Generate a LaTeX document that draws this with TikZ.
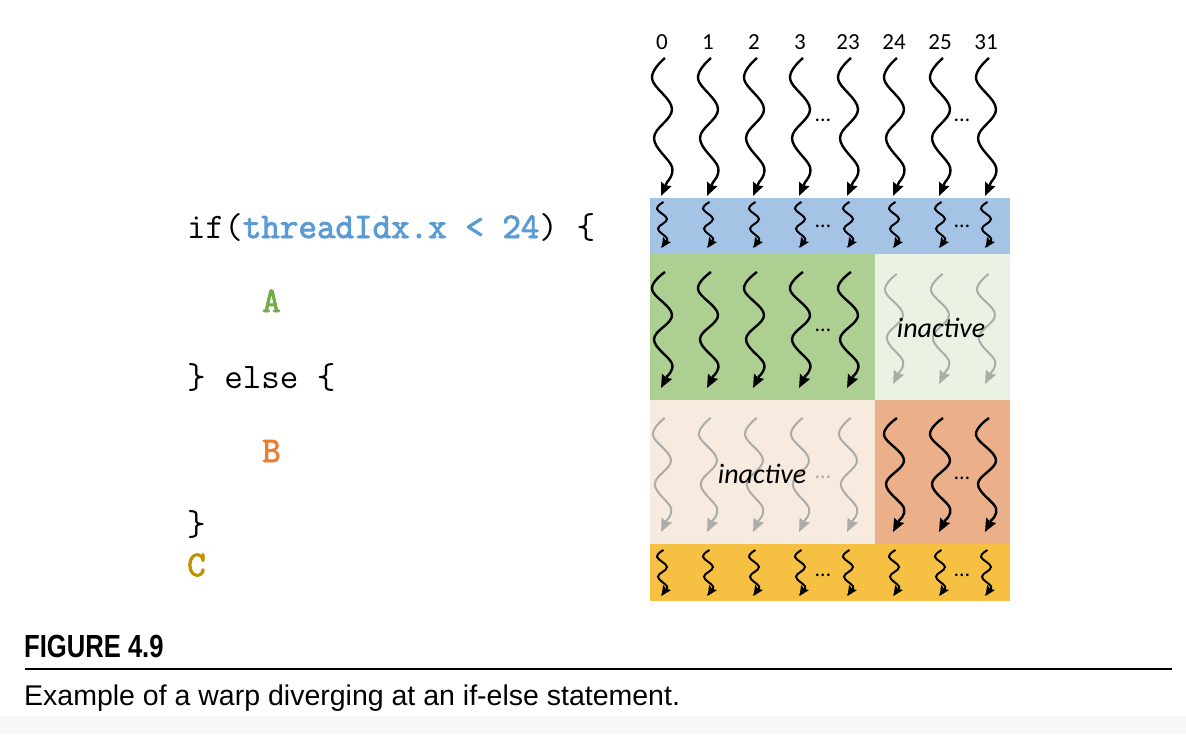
\documentclass[tikz,border=0pt]{standalone}
\usepackage{fontspec}
\setmainfont{Carlito}
\newfontfamily\capfont[FakeStretch=0.8]{Liberation Sans}
\newfontfamily\textcapfont{Liberation Sans}
\newfontfamily\codebold[FakeBold=2.5]{Latin Modern Mono}
\usetikzlibrary{arrows.meta}

\definecolor{codeblue}{RGB}{91,155,213}
\definecolor{codegreen}{RGB}{112,173,71}
\definecolor{codeorange}{RGB}{237,125,49}
\definecolor{codegold}{RGB}{191,144,0}
\definecolor{bandblue}{RGB}{164,195,229}
\definecolor{bandgreen}{RGB}{174,207,146}
\definecolor{bandpalegreen}{RGB}{233,242,227}
\definecolor{bandpeach}{RGB}{247,234,222}
\definecolor{bandorange}{RGB}{235,176,138}
\definecolor{bandyellow}{RGB}{246,193,66}
\definecolor{idlegray}{RGB}{172,172,168}

% one wavy thread: #1 style, #2 x, #3 top, #4 height, #5 swing
\newcommand{\thread}[5]{%
  \draw[#1] plot[smooth,tension=0.65] coordinates {({#2+0.3*#5},{#3})
    ({#2-#5},{#3+0.15*#4}) ({#2+#5},{#3+0.37*#4}) ({#2-0.8*#5},{#3+0.58*#4})
    ({#2+#5},{#3+0.79*#4}) ({#2+0.5*#5},{#3+0.9*#4})} -- ({#2-0.1*#5},{#3+#4});}

\tikzset{
  live/.style={line width=2.4pt,-{Stealth[length=13pt,width=11pt,inset=1.5pt]}},
  livesmall/.style={line width=2pt,-{Stealth[length=10pt,width=9pt,inset=1.5pt]}},
  idle/.style={live,line width=2pt,draw=idlegray},
  tid/.style={font=\fontsize{23}{25}\selectfont,inner sep=0pt},
  gap/.style={font=\fontsize{22}{24}\selectfont,inner sep=0pt},
  idletext/.style={font=\fontsize{28}{30}\selectfont\itshape,inner sep=0pt},
  code/.style={font=\fontsize{36}{38}\selectfont\ttfamily,anchor=base west,inner sep=0pt},
}

\begin{document}
\begin{tikzpicture}[x=1pt,y=-1pt]
  \useasboundingbox (0,0) rectangle (1186,734);
  \fill[white] (0,0) rectangle (1186,734);
  \fill[black!3] (0,716) rectangle (1186,734);

  % coloured bands
  \fill[bandblue] (650,198) rectangle (1010,254);
  \fill[bandgreen] (650,254) rectangle (875,400);
  \fill[bandpalegreen] (875,254) rectangle (1010,400);
  \fill[bandpeach] (650,400) rectangle (875,544);
  \fill[bandorange] (875,400) rectangle (1010,544);
  \fill[bandyellow] (650,544) rectangle (1010,601);

  % thread ids and threads
  \foreach \c/\n in {662/0,708/1,754/2,800/3,848/23,894/24,940/25,986/31}{
    \node[tid] (id\n) at (\c,42) {\n};
    \thread{live}{\c}{58}{138}{10}
    \thread{livesmall}{\c}{202}{46}{5}
    \thread{livesmall}{\c}{550}{46}{5}
  }
  \foreach \c in {662,708,754,800,848}{
    \thread{live}{\c}{272}{116}{10}
    \thread{idle}{\c}{418}{114}{9}
  }
  \foreach \c in {894,940,986}{
    \thread{idle}{\c}{274}{110}{9}
    \thread{live}{\c}{418}{114}{10}
  }

  % gaps
  \foreach \y in {120,226,330,575}{
    \node[gap] at (823,\y) {…};
  }
  \foreach \y in {120,226,478,575}{
    \node[gap] at (962,\y) {…};
  }
  \node[gap,text=idlegray] (gapidle) at (823,477) {…};

  \node[idletext] (idleA) at (941,328) {inactive};
  \node[idletext] (idleB) at (762,474) {inactive};

  % code
  \node[code] (lineif) at (187,238) {if({\codebold\textcolor{codeblue}{threadIdx.x < 24}}) \{};
  \node[code,text=codegreen] (lineA) at (262,312) {\codebold A};
  \node[code] (lineelse) at (187,388) {\} else \{};
  \node[code,text=codeorange] (lineB) at (262,462) {\codebold B};
  \node[code] (lineclose) at (187,535) {\}};
  \node[code,text=codegold] (lineC) at (187,576) {\codebold C};

  % caption
  \node[anchor=base west,inner sep=0pt,font=\fontsize{32}{34}\selectfont\capfont\bfseries] (fig) at (24,657) {FIGURE 4.9};
  \draw[line width=2.5pt] (25,669) -- (1172,669);
  \node[anchor=base west,inner sep=0pt,font=\fontsize{28.5}{30}\selectfont\textcapfont] (caption) at (24,705) {Example of a warp diverging at an if-else statement.};
\end{tikzpicture}
\end{document}
